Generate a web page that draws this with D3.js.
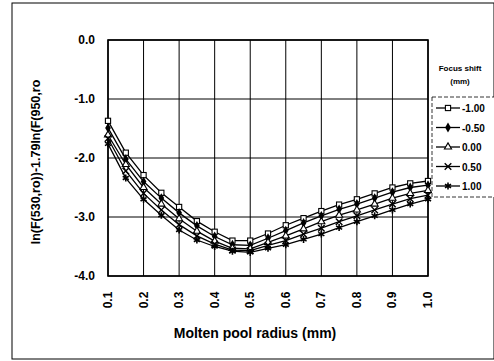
<!DOCTYPE html>
<html>
<head>
<meta charset="utf-8">
<script src="https://cdn.jsdelivr.net/npm/d3@7"></script>
<style>
  body { margin: 0; background: #fff; }
  text { font-family: "Liberation Sans", Arial, sans-serif; font-weight: bold; fill: #000; }
</style>
</head>
<body>
<div id="chart"></div>
<script>
// molten pool radius (mm)
const radius = [0.1, 0.15, 0.2, 0.25, 0.3, 0.35, 0.4, 0.45, 0.5, 0.55, 0.6, 0.65, 0.7, 0.75, 0.8, 0.85, 0.9, 0.95, 1.0];
const xTicks = [0.1, 0.2, 0.3, 0.4, 0.5, 0.6, 0.7, 0.8, 0.9, 1.0];
const yTicks = [0, -1, -2, -3, -4];

const focusShift = ["-1.00", "-0.50", "0.00", "0.50", "1.00"];
const shiftM100 = [-1.37, -1.91, -2.29, -2.59, -2.83, -3.07, -3.25, -3.40, -3.40, -3.28, -3.14, -3.02, -2.90, -2.79, -2.70, -2.60, -2.50, -2.43, -2.39];
const shiftM050 = [-1.49, -2.02, -2.40, -2.68, -2.93, -3.15, -3.33, -3.47, -3.48, -3.36, -3.23, -3.10, -2.98, -2.87, -2.78, -2.68, -2.58, -2.50, -2.46];
const shift000  = [-1.61, -2.11, -2.50, -2.78, -3.03, -3.24, -3.41, -3.53, -3.54, -3.43, -3.32, -3.20, -3.08, -2.97, -2.88, -2.78, -2.68, -2.60, -2.55];
const shiftP050 = [-1.67, -2.22, -2.60, -2.88, -3.13, -3.32, -3.46, -3.56, -3.57, -3.48, -3.40, -3.29, -3.19, -3.08, -2.98, -2.88, -2.78, -2.69, -2.63];
const shiftP100 = [-1.76, -2.34, -2.70, -2.97, -3.22, -3.39, -3.50, -3.58, -3.60, -3.53, -3.47, -3.38, -3.29, -3.18, -3.08, -2.98, -2.88, -2.78, -2.70];
const seriesValues = [shiftM100, shiftM050, shift000, shiftP050, shiftP100];
const markerTypes = ["square", "diamond", "triangle", "cross", "star"];

const width = 494, height = 361;
const plot = {left: 108, right: 428, top: 40, bottom: 276};

const svg = d3.select("#chart").append("svg")
  .attr("width", width).attr("height", height);

// outer frame
svg.append("rect")
  .attr("x", 12).attr("y", 3).attr("width", 482).attr("height", 356)
  .attr("fill", "none").attr("stroke", "#000").attr("stroke-width", 1);

const x = d3.scaleLinear().domain([0.1, 1.0]).range([plot.left, plot.right]);
const y = d3.scaleLinear().domain([-4, 0]).range([plot.bottom, plot.top]);

// grid
svg.append("g").selectAll("line").data(xTicks).enter().append("line")
  .attr("x1", d => x(d)).attr("x2", d => x(d))
  .attr("y1", plot.top).attr("y2", plot.bottom)
  .attr("stroke", "#000").attr("stroke-width", 1);
svg.append("g").selectAll("line").data(yTicks).enter().append("line")
  .attr("x1", plot.left).attr("x2", plot.right)
  .attr("y1", d => y(d)).attr("y2", d => y(d))
  .attr("stroke", "#000").attr("stroke-width", 1);
svg.append("rect")
  .attr("x", plot.left).attr("y", plot.top)
  .attr("width", plot.right - plot.left).attr("height", plot.bottom - plot.top)
  .attr("fill", "none").attr("stroke", "#000").attr("stroke-width", 1.6);

// y tick labels
svg.append("g").selectAll("text").data(yTicks).enter().append("text")
  .attr("x", 95).attr("y", d => y(d) + 4)
  .attr("text-anchor", "end").style("font-size", "12px")
  .text(d => d3.format(".1f")(d).replace("−", "-"));

// x tick labels, rotated
svg.append("g").selectAll("text").data(xTicks).enter().append("text")
  .attr("transform", d => "translate(" + (x(d) + 4) + ",300) rotate(-90)")
  .attr("text-anchor", "middle").style("font-size", "12px")
  .text(d => d3.format(".1f")(d));

// axis titles
svg.append("text")
  .attr("transform", "translate(40,162) rotate(-90)")
  .attr("text-anchor", "middle").style("font-size", "12.5px")
  .text("ln(F(530,ro))-1.79ln(F(950,ro");
svg.append("text")
  .attr("x", 255).attr("y", 338)
  .attr("text-anchor", "middle").style("font-size", "14px")
  .text("Molten pool radius (mm)");

// marker drawing
function drawMarker(g, type, cx, cy) {
  const s = 2.6;
  if (type === "square") {
    g.append("rect").attr("x", cx - s).attr("y", cy - s).attr("width", 2 * s).attr("height", 2 * s)
      .attr("fill", "#fff").attr("stroke", "#000").attr("stroke-width", 1.1);
  } else if (type === "diamond") {
    g.append("path").attr("d", d3.symbol(d3.symbolDiamond, 28)())
      .attr("transform", "translate(" + cx + "," + cy + ")").attr("fill", "#000");
  } else if (type === "triangle") {
    g.append("path").attr("d", d3.symbol(d3.symbolTriangle, 22)())
      .attr("transform", "translate(" + cx + "," + cy + ")")
      .attr("fill", "#fff").attr("stroke", "#000").attr("stroke-width", 1.1);
  } else if (type === "cross") {
    g.append("path").attr("d", d3.symbol(d3.symbolX, 30)())
      .attr("transform", "translate(" + cx + "," + cy + ")")
      .attr("fill", "none").attr("stroke", "#000").attr("stroke-width", 1.4);
  } else {
    g.append("path").attr("d", d3.symbol(d3.symbolAsterisk, 34)())
      .attr("transform", "translate(" + cx + "," + cy + ")")
      .attr("fill", "none").attr("stroke", "#000").attr("stroke-width", 1.6);
  }
}

const line = d3.line().x((d, i) => x(radius[i])).y(d => y(d));

seriesValues.forEach((vals, k) => {
  const g = svg.append("g");
  g.append("path").datum(vals).attr("d", line)
    .attr("fill", "none").attr("stroke", "#000").attr("stroke-width", 1.3);
  vals.forEach((v, i) => drawMarker(g, markerTypes[k], x(radius[i]), y(v)));
});

// legend
svg.append("text").attr("x", 460).attr("y", 71).attr("text-anchor", "middle")
  .style("font-size", "8px").text("Focus shift");
svg.append("text").attr("x", 460).attr("y", 84).attr("text-anchor", "middle")
  .style("font-size", "8px").text("(mm)");
svg.append("rect").attr("x", 432).attr("y", 97).attr("width", 70).attr("height", 100)
  .attr("fill", "#fff").attr("stroke", "#000").attr("stroke-width", 0.8)
  .attr("stroke-dasharray", "4,2");

focusShift.forEach((label, k) => {
  const ly = 108 + k * 19.5;
  const g = svg.append("g");
  g.append("line").attr("x1", 436).attr("x2", 460).attr("y1", ly).attr("y2", ly)
    .attr("stroke", "#000").attr("stroke-width", 1.3);
  drawMarker(g, markerTypes[k], 448, ly);
  g.append("text").attr("x", 462).attr("y", ly + 4).style("font-size", "10px").text(label);
});
</script>
</body>
</html>
